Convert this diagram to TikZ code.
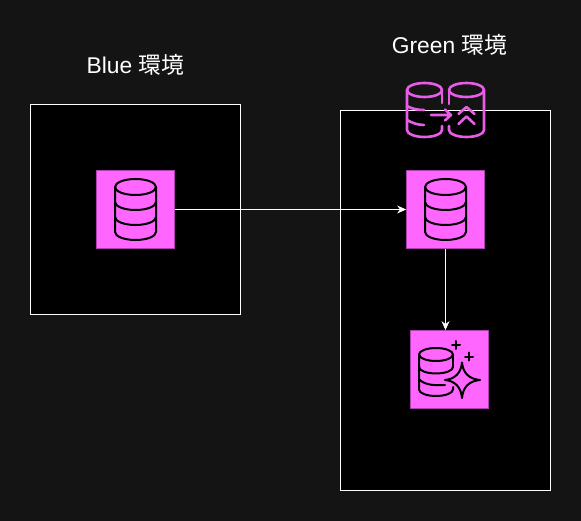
\documentclass[tikz,border=0pt]{standalone}
\usepackage{fontspec}
\setmainfont{Liberation Sans}
\newfontfamily\cjk{Noto Sans CJK JP}
\usetikzlibrary{arrows.meta}
\definecolor{bgc}{HTML}{141414}
\definecolor{magfill}{HTML}{FF66FF}
\definecolor{magline}{HTML}{E85CE8}
\definecolor{magedge}{HTML}{B040B0}
\tikzset{
  envbox/.style={draw=white,fill=black,line width=0.8pt,anchor=north west,inner sep=0pt,outer sep=0pt},
  dbbox/.style={draw=magedge,fill=magfill,line width=0.8pt,minimum width=78pt,minimum height=78pt,inner sep=0pt,outer sep=0.4pt},
  flow/.style={draw=white,line width=0.8pt,-{Stealth[length=9pt,width=8pt,inset=3pt]}},
  title/.style={text=white,font=\fontsize{22.8}{26}\selectfont,inner sep=0pt},
  ico/.style={draw=#1,line width=2pt,line cap=round,line join=round,fill=none},
  icob/.style={draw=#1,line width=2.6pt,line cap=round,line join=round,fill=none},
}
\begin{document}
\begin{tikzpicture}[x=1pt,y=-1pt]
\useasboundingbox (0,0) rectangle (581,521);
\fill[bgc] (0,0) rectangle (581,521);
% environments
\node[envbox,minimum width=210pt,minimum height=210pt] (blueenv) at (30.5,104.5) {};
\node[envbox,minimum width=210pt,minimum height=380pt] (greenenv) at (340.5,110.5) {};
\node[title] (bluelabel) at (135.5,65) {Blue {\cjk 環境}};
\node[title] (greenlabel) at (449.5,45) {Green {\cjk 環境}};
% database boxes
\node[dbbox] (bluedb) at (135.5,209.5) {};
\node[dbbox] (greendb) at (445.5,209.5) {};
\node[dbbox] (newdb) at (449.5,369.5) {};
% connectors
\draw[flow] (bluedb.east) -- (greendb.west);
\draw[flow] (greendb.south) -- (greendb.south |- newdb.north);
% cylinder icons
\foreach \cx in {135.5,445.5}{
  \draw[ico=black] (\cx,187) ellipse [x radius=20.5,y radius=8];
  \draw[ico=black] (\cx-20.5,187) -- (\cx-20.5,232) arc[start angle=180,end angle=0,x radius=20.5,y radius=8] -- (\cx+20.5,187);
  \draw[ico=black] (\cx-20.5,202) arc[start angle=180,end angle=0,x radius=20.5,y radius=8];
  \draw[ico=black] (\cx-20.5,217) arc[start angle=180,end angle=0,x radius=20.5,y radius=8];
}
% new db icon
\draw[ico=black] (436,354.5) ellipse [x radius=17,y radius=6.5];
\draw[ico=black] (419,354.5) -- (419,389.5) arc[start angle=180,end angle=0,x radius=17,y radius=6.5] -- (453,387);
\draw[ico=black] (453,354.5) -- (453,367);
\draw[ico=black] (419,367) arc[start angle=180,end angle=0,x radius=17,y radius=6.5];
\draw[ico=black] (419,379) .. controls (423,384) and (432,386) .. (445,385);
\draw[ico=black] (462,362.5) .. controls (463,373) and (469,379) .. (480,380)
  .. controls (469,381) and (463,387) .. (462,398)
  .. controls (461,387) and (455,381) .. (445,380)
  .. controls (455,379) and (461,373) .. (462,362.5) -- cycle;
\draw[ico=black] (456,341) -- (456,349) (452,345) -- (460,345);
\draw[ico=black] (469,352.5) -- (469,360.5) (465,356.5) -- (473,356.5);
% migration icon
\draw[icob=magline] (424.5,90) ellipse [x radius=17.5,y radius=7];
\draw[icob=magline] (407,90) -- (407,130) arc[start angle=180,end angle=0,x radius=17.5,y radius=7] -- (442,126);
\draw[icob=magline] (442,90) -- (442,103);
\draw[icob=magline] (407,106) .. controls (412,109) and (418,110) .. (424,110);
\draw[icob=magline] (407,120) .. controls (412,123) and (418,125) .. (424,125);
\draw[icob=magline] (466.5,90) ellipse [x radius=17.5,y radius=7];
\draw[icob=magline] (449,90) -- (449,104);
\draw[icob=magline] (449,126) -- (449,130) arc[start angle=180,end angle=0,x radius=17.5,y radius=7] -- (484,90);
\draw[icob=magline] (431,115) -- (450,115) (445,109.5) -- (451,115) -- (445,120.5);
\draw[icob=magline] (458.5,114) -- (466.5,107) -- (474.5,114);
\draw[icob=magline] (458.5,124) -- (466.5,116.5) -- (474.5,124);
\end{tikzpicture}
\end{document}
